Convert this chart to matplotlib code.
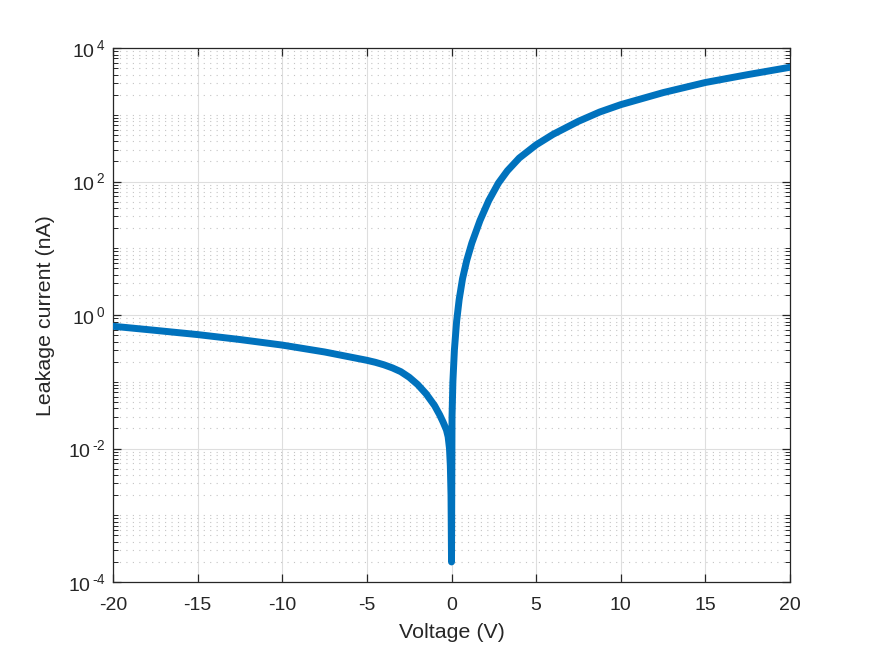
import numpy as np
import matplotlib
matplotlib.use("Agg")
import matplotlib.pyplot as plt
from matplotlib.ticker import FixedLocator, LogLocator, FuncFormatter, NullFormatter

plt.rcParams['font.family'] = ['Liberation Sans', 'DejaVu Sans']
plt.rcParams['axes.unicode_minus'] = False

# Leakage current (|I| in nA vs bias in V)
voltage = [-20, -17.5, -15, -12.5, -10, -7.5, -5, -4.5, -4, -3.5, -3, -2.5,
           -2, -1.5, -1, -0.7, -0.5, -0.3, -0.2, -0.12, -0.07, -0.03, 0.0,
           0.03, 0.08, 0.17, 0.3, 0.45, 0.65, 0.9, 1.2, 1.68, 2.2, 2.77, 3.3,
           4.0, 5.0, 6.0, 7.5, 8.75, 10, 12.5, 15, 17.5, 20]
current = [0.68, 0.59, 0.51, 0.43, 0.355, 0.28, 0.21, 0.196, 0.18, 0.162,
           0.142, 0.117, 0.091, 0.066, 0.044, 0.032, 0.025, 0.019, 0.015,
           0.010, 0.0055, 0.002, 2e-4,
           0.03, 0.1, 0.3, 0.8, 1.7, 3.5, 6.6, 12, 26, 52, 95, 145,
           225, 355, 510, 800, 1100, 1420, 2150, 3050, 4000, 5160]

xticks = [-20, -15, -10, -5, 0, 5, 10, 15, 20]
yticks = [1e-4, 1e-2, 1e0, 1e2, 1e4]

axcol = '#262626'


def exp_label(v, pos):
    e = int(round(np.log10(v)))
    s = str(e).replace('-', '\u2010')
    return r'$\mathregular{10^{\,%s}}$' % s


fig = plt.figure(figsize=(8.72, 6.54), dpi=100)
ax = fig.add_axes([0.1296, 0.110, 0.7764, 0.8165])

ax.plot(voltage, current, color='#0072BD', lw=5, solid_capstyle='round',
        solid_joinstyle='round', zorder=3)

ax.set_yscale('log')
ax.set_xlim(-20, 20)
ax.set_ylim(1e-4, 1e4)

ax.xaxis.set_major_locator(FixedLocator(xticks))
ax.yaxis.set_major_locator(FixedLocator(yticks))
ax.yaxis.set_minor_locator(LogLocator(base=10, subs=np.arange(1, 10), numticks=50))
ax.yaxis.set_minor_formatter(NullFormatter())
ax.yaxis.set_major_formatter(FuncFormatter(exp_label))

ax.grid(True, which='major', color='#dedede', lw=0.8, ls='-')
ax.grid(True, which='minor', axis='y', color='#c4c4c4', lw=0.8,
        ls=(0, (1.0, 4.8)))
ax.set_axisbelow(True)

for s in ax.spines.values():
    s.set_color(axcol)
    s.set_linewidth(0.9)

ax.tick_params(which='both', direction='in', top=True, right=True,
               colors=axcol, labelcolor=axcol)
ax.tick_params(which='major', length=6, width=0.9, labelsize=14)
ax.tick_params(which='minor', length=3.5, width=0.7)
ax.tick_params(axis='x', pad=11)
ax.tick_params(axis='y', pad=5.5)

ax.set_xlabel('Voltage (V)', fontsize=15.4, color=axcol, labelpad=6)
ax.set_ylabel('Leakage current (nA)', fontsize=15.4, color=axcol, labelpad=9)

fig.savefig('out.png', dpi=100)
